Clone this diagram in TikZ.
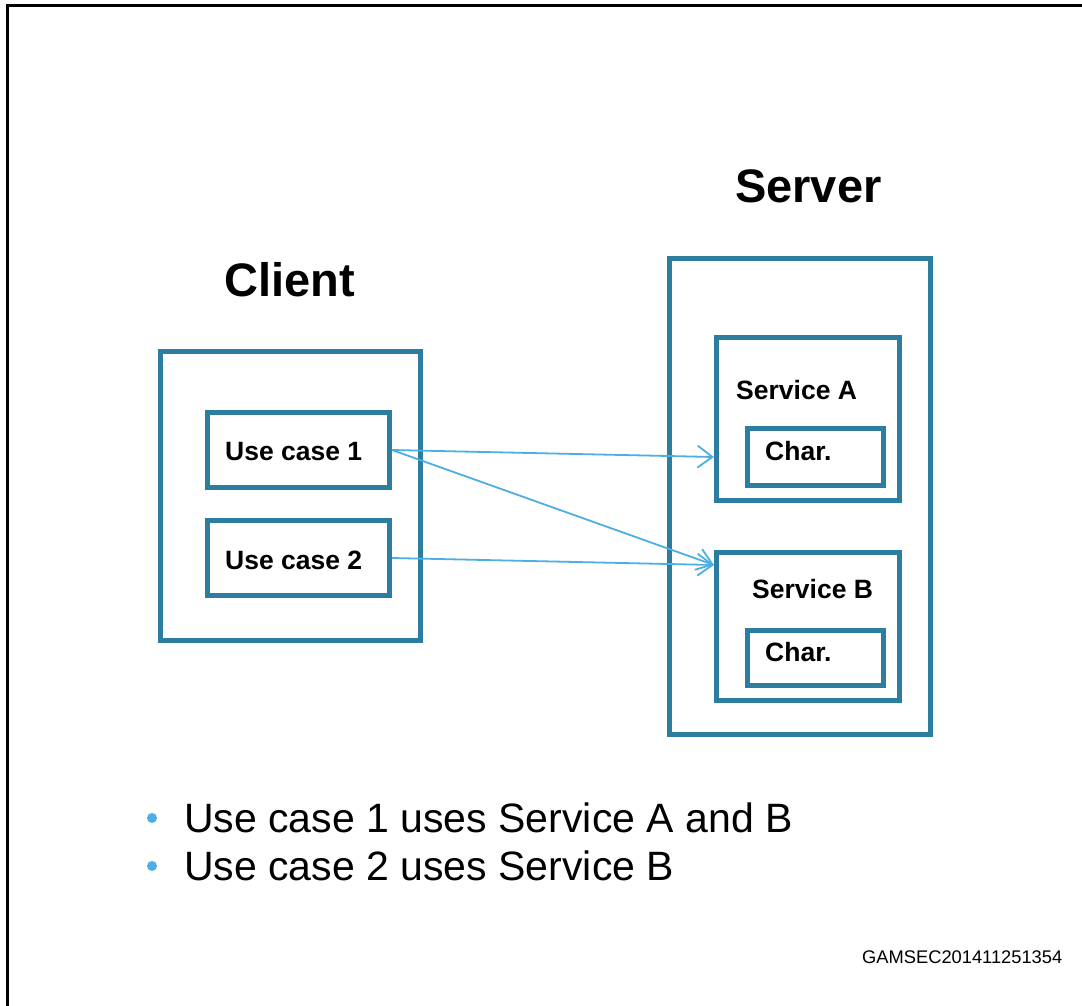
\documentclass[tikz,border=0pt]{standalone}
\usepackage{fontspec}
\setmainfont{Liberation Sans}
\usetikzlibrary{arrows.meta,calc}
\definecolor{boxblue}{RGB}{44,125,160}
\definecolor{arrblue}{RGB}{76,174,226}
\tikzset{
  boxnode/.style={draw=boxblue, line width=5pt, inner sep=0pt, anchor=north west, rectangle},
  lbl/.style={inner sep=0pt, anchor=base west},
  bigtitle/.style={lbl, font=\fontsize{47}{56}\selectfont\bfseries},
  boxtext/.style={lbl, font=\fontsize{26.5}{32}\selectfont\bfseries},
  bullettext/.style={lbl, font=\fontsize{41}{48}\selectfont},
  arr/.style={draw=arrblue, line width=1.8pt, -{Straight Barb[length=15pt,width=22pt,line width=1.8pt]}},
  bulletdot/.style={circle, fill=arrblue, inner sep=0pt, minimum size=10pt}
}
\begin{document}
\begin{tikzpicture}[x=1pt,y=-1pt]
\useasboundingbox (0,0) rectangle (1082,1006);
% outer frame (top and left edges)
\coordinate (fr1) at (1082,6);
\coordinate (fr2) at (7,6);
\coordinate (fr3) at (7,1006);
\draw[line width=3pt, line cap=rect] (fr1) -- (fr2) -- (fr3);

% client
\node[boxnode, minimum width=260pt, minimum height=289pt] (client) at (158,349) {};
\node[boxnode, minimum width=182pt, minimum height=75pt] (uc1) at (205,410) {};
\node[boxnode, minimum width=182pt, minimum height=75pt] (uc2) at (205,518) {};
\node[bigtitle] (clientlbl) at (224,296) {Client};
\node[boxtext] (uc1lbl) at (225,460) {Use case 1};
\node[boxtext] (uc2lbl) at (225,569) {Use case 2};

% server
\node[boxnode, minimum width=261pt, minimum height=476pt] (server) at (667,256) {};
\node[boxnode, minimum width=183pt, minimum height=163pt] (sa) at (714,335) {};
\node[boxnode, minimum width=136pt, minimum height=57pt] (ca) at (745,426) {};
\node[boxnode, minimum width=183pt, minimum height=148pt] (sb) at (714,550) {};
\node[boxnode, minimum width=136pt, minimum height=55pt] (cb) at (745,628) {};
\node[bigtitle] (serverlbl) at (735,203) {Server};
\node[boxtext] (salbl) at (736,399) {Service A};
\node[boxtext] (calbl) at (765,460) {Char.};
\node[boxtext] (sblbl) at (752,598) {Service B};
\node[boxtext] (cblbl) at (765,661) {Char.};

% connectors
\coordinate (sbin) at ($(sb.north west)+(0,15)$);
\draw[arr] (uc1.east) -- (sa.west |- ca.west);
\draw[arr] (uc1.east) -- (sbin);
\draw[arr] (uc2.east) -- (sbin);

% bullets
\node[bulletdot] (b1) at (152,818) {};
\node[bulletdot] (b2) at (152,866) {};
\node[bullettext] (t1) at (184,832) {Use case 1 uses Service A and B};
\node[bullettext] (t2) at (184,880) {Use case 2 uses Service B};

% footer
\node[lbl, font=\fontsize{18.3}{22}\selectfont] (code) at (862,963) {GAMSEC201411251354};
\end{tikzpicture}
\end{document}
